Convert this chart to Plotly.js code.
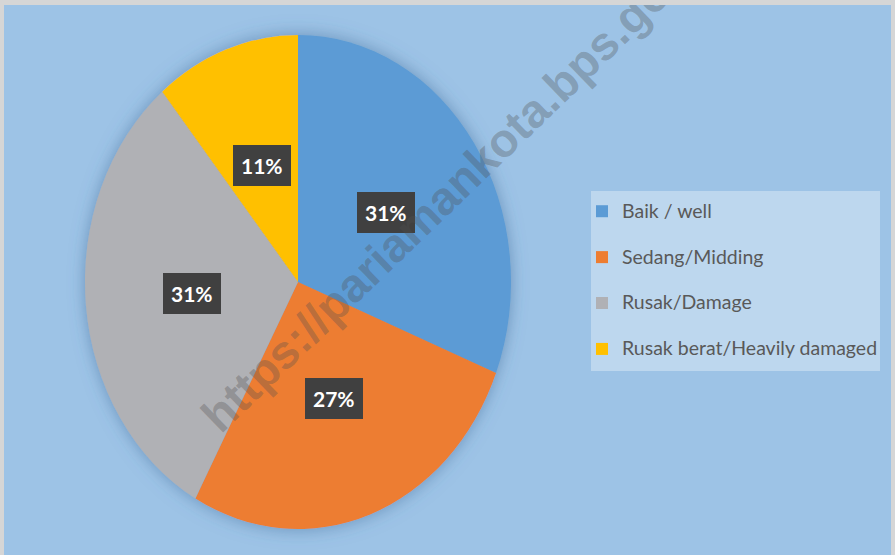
<!DOCTYPE html>
<html>
<head>
<meta charset="utf-8">
<script src="https://cdn.plot.ly/plotly-3.0.1.min.js"></script>
<style>
  html, body { margin: 0; padding: 0; background: #d6d6d6; width: 895px; height: 555px; overflow: hidden; }
  #chart { position: absolute; left: 4px; top: 5px; width: 887px; height: 550px; }
</style>
</head>
<body>
<div id="chart"></div>
<script>
// ---- data ----
const categories = ['Baik / well', 'Sedang/Midding', 'Rusak/Damage', 'Rusak berat/Heavily damaged'];
const values = [31, 27, 31, 11];
const valueLabels = ['31%', '27%', '31%', '11%'];
const sliceColors = ['#5B9BD5', '#ED7D31', '#B0B1B5', '#FFC000'];
const watermarkText = 'https://pariamankota.bps.go.id';

// ---- geometry (layout only) ----
const W = 887, H = 550;
const pieCx = 294, pieCy = 277, pieR = 213, stretchY = 247 / 213;
const domX = [(pieCx - pieR) / W, (pieCx + pieR) / W];
const domY = [1 - (pieCy + pieR) / H, 1 - (pieCy - pieR) / H];

// data labels as boxed annotations placed at slice mid-angles
const total = values.reduce((a, b) => a + b, 0);
let cum = 0;
const labelAnns = values.map((v, i) => {
  const th = 2 * Math.PI * (cum + v / 2) / total;
  cum += v;
  const px = pieCx + 0.5 * pieR * Math.sin(th);
  const py = pieCy - 0.5 * pieR * stretchY * Math.cos(th);
  return {
    x: px / W, y: 1 - py / H, xref: 'paper', yref: 'paper',
    xanchor: 'center', yanchor: 'middle',
    text: '<b>' + valueLabels[i] + '</b>', showarrow: false,
    font: { family: 'Lato, sans-serif', size: 21, color: '#ffffff' },
    bgcolor: '#404040', borderpad: 8, borderwidth: 0
  };
});

const data = [{
  type: 'pie',
  labels: categories.map(c => '<span style="font-size:19.5px">' + c + '</span><br> '),
  values: values,
  sort: false,
  direction: 'clockwise',
  rotation: 0,
  textinfo: 'none',
  hoverinfo: 'none',
  marker: { colors: sliceColors, line: { width: 0 } },
  domain: { x: domX, y: domY }
}];

const layout = {
  width: W, height: H,
  margin: { l: 0, r: 0, t: 0, b: 0 },
  paper_bgcolor: '#9DC3E6',
  showlegend: true,
  legend: {
    x: 578 / W, xanchor: 'left',
    y: 1 - 189 / H, yanchor: 'top',
    bgcolor: 'rgba(0,0,0,0)',
    valign: 'top',
    font: { family: 'Lato, sans-serif', size: 16.5, color: '#595959' }
  },
  shapes: [{
    type: 'rect', xref: 'paper', yref: 'paper', layer: 'below',
    x0: 587 / W, x1: 876 / W, y0: 1 - 366 / H, y1: 1 - 186 / H,
    fillcolor: '#BDD7EE', line: { width: 0 }
  }],
  annotations: labelAnns.concat([{
    x: 451 / W, y: 1 - 180 / H, xref: 'paper', yref: 'paper',
    xanchor: 'center', yanchor: 'middle',
    text: '<b>' + watermarkText + '</b>', showarrow: false, textangle: -44,
    font: { family: 'Liberation Sans, Arial, sans-serif', size: 47, color: 'rgba(80,80,80,0.33)' }
  }])
};

Plotly.newPlot('chart', data, layout, { staticPlot: true }).then(gd => {
  const svg = gd.querySelector('.main-svg');
  const pl = gd.querySelector('.pielayer');
  if (!pl) return;
  const ns = 'http://www.w3.org/2000/svg';
  let defs = svg.querySelector('defs');
  if (!defs) { defs = document.createElementNS(ns, 'defs'); svg.insertBefore(defs, svg.firstChild); }
  const f = document.createElementNS(ns, 'filter');
  f.setAttribute('id', 'pieShadow');
  f.setAttribute('x', '-20%'); f.setAttribute('y', '-20%');
  f.setAttribute('width', '140%'); f.setAttribute('height', '140%');
  const ds = document.createElementNS(ns, 'feDropShadow');
  ds.setAttribute('dx', '0'); ds.setAttribute('dy', '0');
  ds.setAttribute('stdDeviation', '8');
  ds.setAttribute('flood-color', '#3d6a96');
  ds.setAttribute('flood-opacity', '0.55');
  f.appendChild(ds); defs.appendChild(f);
  pl.setAttribute('transform',
    'translate(' + pieCx + ',' + pieCy + ') scale(1,' + stretchY + ') translate(' + (-pieCx) + ',' + (-pieCy) + ')');
  pl.setAttribute('filter', 'url(#pieShadow)');
});
</script>
</body>
</html>
